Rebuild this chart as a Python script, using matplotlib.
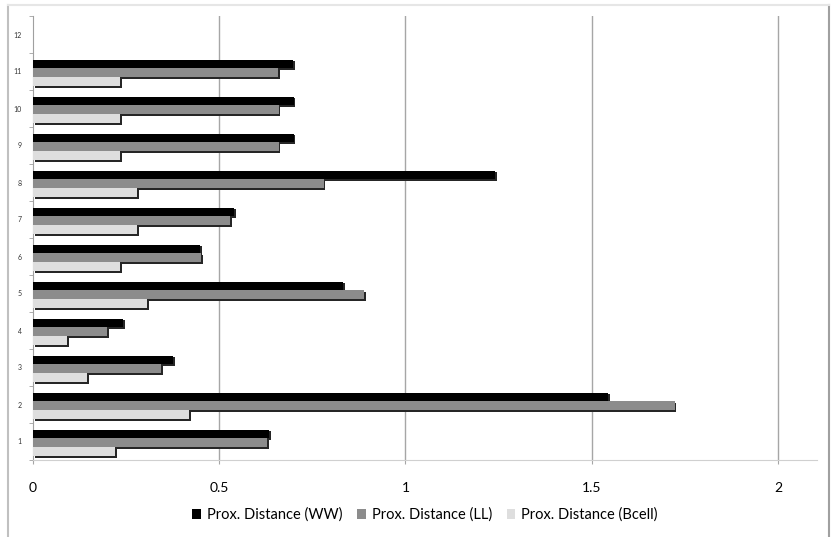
import numpy as np
import matplotlib
matplotlib.use('Agg')
import matplotlib.pyplot as plt
import matplotlib.patheffects as pe
from matplotlib.lines import Line2D

# data
categories = ['1', '2', '3', '4', '5', '6', '7', '8', '9', '10', '11', '12']
prox_ww = [0.634, 1.544, 0.376, 0.242, 0.832, 0.448, 0.54, 1.24, 0.70, 0.70, 0.698, 0]
prox_ll = [0.628, 1.723, 0.344, 0.20, 0.889, 0.452, 0.53, 0.78, 0.66, 0.66, 0.658, 0]
prox_bcell = [0.22, 0.42, 0.145, 0.091, 0.306, 0.234, 0.28, 0.28, 0.234, 0.234, 0.234, 0]
series_names = ['Prox. Distance (WW)', 'Prox. Distance (LL)', 'Prox. Distance (Bcell)']
x_ticks = [0, 0.5, 1, 1.5, 2]
x_tick_labels = ['0', '0.5', '1', '1.5', '2']

plt.rcParams['font.family'] = ['Lato', 'DejaVu Sans']

W, H = 833, 537
fig = plt.figure(figsize=(W / 100, H / 100), dpi=100)
ax = fig.add_axes([33 / W, 1 - 460 / H, (817 - 33) / W, (460 - 16) / H])

y = np.arange(1, len(categories) + 1)
bar_h = 0.235
offsets = [0.2, -0.035, -0.27]
colors = ['#000000', '#8c8c8c', '#dedede']
shadow = [pe.SimplePatchShadow(offset=(1.2, -1.2), shadow_rgbFace='#262626', alpha=1), pe.Normal()]

for vals, off, col, name in zip([prox_ww, prox_ll, prox_bcell], offsets, colors, series_names):
    bars = ax.barh(y + off, vals, height=bar_h, color=col, label=name, zorder=3)
    for b in bars:
        if b.get_width() > 0:
            b.set_path_effects(shadow)

ax.set_xlim(0, 2.105)
ax.set_ylim(0.5, 12.5)

# vertical gridlines
for xv in x_ticks[1:]:
    ax.axvline(xv, color='#a6a6a6', lw=1, zorder=1)

ax.set_xticks(x_ticks)
ax.set_xticklabels(x_tick_labels)
ax.tick_params(axis='x', length=3, color='#a6a6a6', direction='out', pad=13, labelsize=10)

ax.set_yticks(y)
ax.set_yticklabels(categories)
ax.tick_params(axis='y', which='major', length=0, pad=8, labelsize=5, labelcolor='#333333')
ax.set_yticks(np.arange(0.5, 13, 1), minor=True)
ax.tick_params(axis='y', which='minor', length=3, color='#a0a0a0', direction='out')

for s in ['top', 'right']:
    ax.spines[s].set_visible(False)
ax.spines['left'].set_color('#a0a0a0')
ax.spines['bottom'].set_color('#d0d0d0')

leg = fig.legend(loc='center', bbox_to_anchor=(425 / W, 1 - 515 / H), ncol=3, frameon=False,
                 fontsize=10.5, handlelength=0.6, handleheight=0.6, handletextpad=0.4,
                 columnspacing=1.0)
for h in leg.legend_handles:
    h.set_path_effects([])

# outer chart frame
fig.add_artist(Line2D([8 / W, 8 / W], [0, 1 - 5 / H], color='#c0c0c0', lw=1.5))
fig.add_artist(Line2D([829 / W, 829 / W], [0, 1 - 5 / H], color='#a0a0a0', lw=1.5))
fig.add_artist(Line2D([8 / W, 829 / W], [1 - 5 / H, 1 - 5 / H], color='#e6e6e6', lw=1.5))

fig.savefig('out.png', dpi=100)
